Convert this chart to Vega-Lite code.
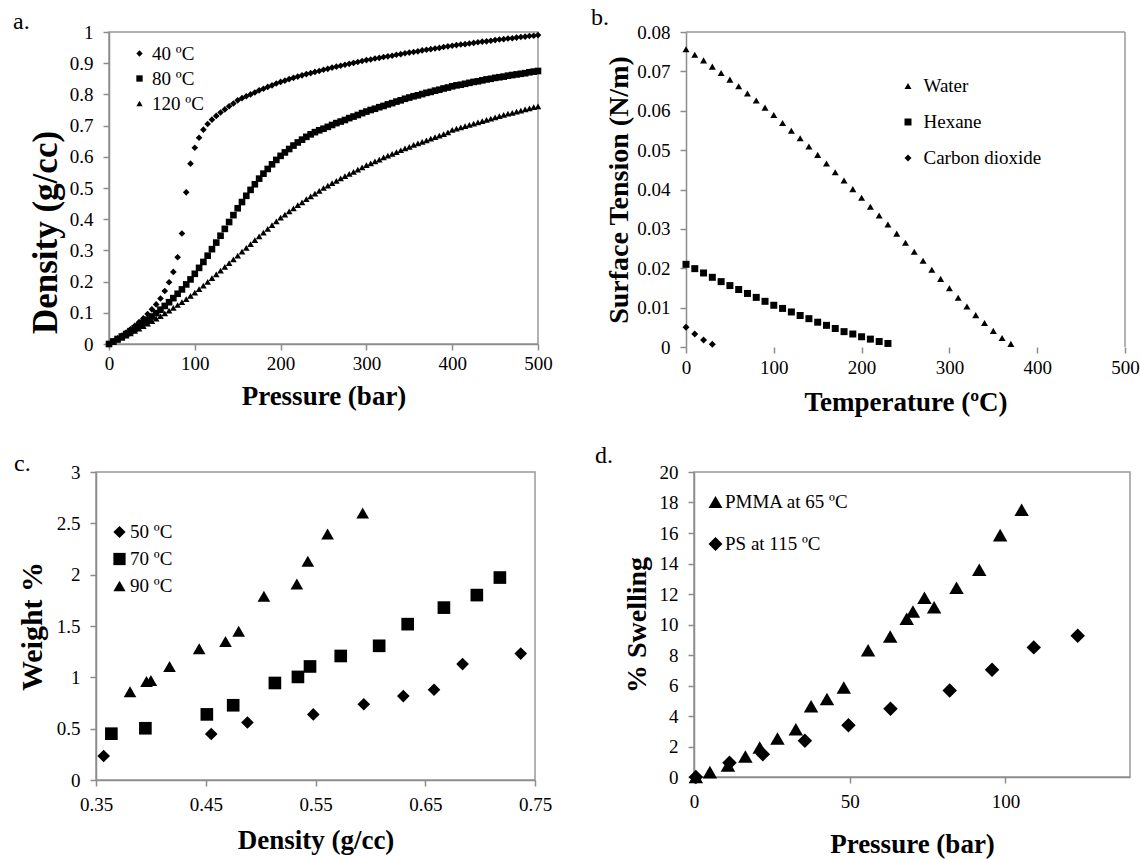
{
"$schema": "https://vega.github.io/schema/vega-lite/v6.json",
"background": "white",
"padding": {"left": 12, "top": 6, "right": 5, "bottom": 5},
"columns": 1,
"align": "none",
"bounds": "full",
"spacing": 28,
"resolve": {"scale": {"shape": "independent"}, "legend": {"shape": "independent"}},
"config": {
  "font": "Liberation Serif",
  "view": {"stroke": "#999999", "strokeWidth": 1.5},
  "axis": {"grid": false, "domainColor": "#8c8c8c", "domainWidth": 1.5, "tickColor": "#8c8c8c", "tickWidth": 1.5, "tickSize": 6, "labelFont": "Liberation Serif", "labelFontSize": 19, "labelColor": "#000000", "labelPadding": 10, "labelFlush": false, "labelOverlap": false, "titleFont": "Liberation Serif", "titleFontSize": 27, "titleFontWeight": "bold", "titleColor": "#000000"},
  "axisY": {"titlePadding": 6},
  "legend": {"labelFont": "Liberation Serif", "labelFontSize": 19, "labelColor": "#000000", "symbolFillColor": "#000000", "symbolStrokeWidth": 0, "symbolOpacity": 1, "padding": 0},
  "title": {"font": "Liberation Serif", "fontSize": 24, "fontWeight": "normal", "anchor": "start", "frame": "group", "offset": 0, "baseline": "alphabetic", "color": "#000000"}
},
"concat": [
{
"bounds": "flush",
"spacing": 0,
"resolve": {"scale": {"shape": "independent"}, "legend": {"shape": "independent"}},
"hconcat": [
{"width": 13, "height": 1, "view": {"stroke": null}, "data": {"values": []}, "mark": "point"},
{
"bounds": "flush",
"spacing": 148,
"resolve": {"scale": {"shape": "independent"}, "legend": {"shape": "independent"}},
"hconcat": [
{
"width": 429, "height": 312,
"title": {"text": "a.", "dx": -96, "dy": 15},
"data": {"values": [
{"P":0,"D":0,"T":"40 ºC"},{"P":5,"D":0.009,"T":"40 ºC"},{"P":10,"D":0.018,"T":"40 ºC"},{"P":15,"D":0.027,"T":"40 ºC"},{"P":20,"D":0.037,"T":"40 ºC"},{"P":25,"D":0.047,"T":"40 ºC"},{"P":30,"D":0.058,"T":"40 ºC"},{"P":35,"D":0.070,"T":"40 ºC"},{"P":40,"D":0.082,"T":"40 ºC"},{"P":45,"D":0.096,"T":"40 ºC"},
{"P":50,"D":0.111,"T":"40 ºC"},{"P":55,"D":0.127,"T":"40 ºC"},{"P":60,"D":0.146,"T":"40 ºC"},{"P":65,"D":0.170,"T":"40 ºC"},{"P":70,"D":0.198,"T":"40 ºC"},{"P":75,"D":0.231,"T":"40 ºC"},{"P":80,"D":0.278,"T":"40 ºC"},{"P":85,"D":0.354,"T":"40 ºC"},{"P":90,"D":0.486,"T":"40 ºC"},{"P":95,"D":0.578,"T":"40 ºC"},
{"P":100,"D":0.629,"T":"40 ºC"},{"P":105,"D":0.661,"T":"40 ºC"},{"P":110,"D":0.687,"T":"40 ºC"},{"P":115,"D":0.705,"T":"40 ºC"},{"P":120,"D":0.719,"T":"40 ºC"},{"P":125,"D":0.731,"T":"40 ºC"},{"P":130,"D":0.742,"T":"40 ºC"},{"P":135,"D":0.752,"T":"40 ºC"},{"P":140,"D":0.762,"T":"40 ºC"},{"P":145,"D":0.771,"T":"40 ºC"},
{"P":150,"D":0.781,"T":"40 ºC"},{"P":155,"D":0.788,"T":"40 ºC"},{"P":160,"D":0.794,"T":"40 ºC"},{"P":165,"D":0.800,"T":"40 ºC"},{"P":170,"D":0.806,"T":"40 ºC"},{"P":175,"D":0.813,"T":"40 ºC"},{"P":180,"D":0.818,"T":"40 ºC"},{"P":185,"D":0.824,"T":"40 ºC"},{"P":190,"D":0.829,"T":"40 ºC"},{"P":195,"D":0.835,"T":"40 ºC"},
{"P":200,"D":0.840,"T":"40 ºC"},{"P":205,"D":0.844,"T":"40 ºC"},{"P":210,"D":0.849,"T":"40 ºC"},{"P":215,"D":0.853,"T":"40 ºC"},{"P":220,"D":0.857,"T":"40 ºC"},{"P":225,"D":0.861,"T":"40 ºC"},{"P":230,"D":0.865,"T":"40 ºC"},{"P":235,"D":0.868,"T":"40 ºC"},{"P":240,"D":0.872,"T":"40 ºC"},{"P":245,"D":0.875,"T":"40 ºC"},
{"P":250,"D":0.879,"T":"40 ºC"},{"P":255,"D":0.882,"T":"40 ºC"},{"P":260,"D":0.886,"T":"40 ºC"},{"P":265,"D":0.889,"T":"40 ºC"},{"P":270,"D":0.892,"T":"40 ºC"},{"P":275,"D":0.895,"T":"40 ºC"},{"P":280,"D":0.898,"T":"40 ºC"},{"P":285,"D":0.901,"T":"40 ºC"},{"P":290,"D":0.904,"T":"40 ºC"},{"P":295,"D":0.907,"T":"40 ºC"},
{"P":300,"D":0.910,"T":"40 ºC"},{"P":305,"D":0.912,"T":"40 ºC"},{"P":310,"D":0.915,"T":"40 ºC"},{"P":315,"D":0.917,"T":"40 ºC"},{"P":320,"D":0.920,"T":"40 ºC"},{"P":325,"D":0.922,"T":"40 ºC"},{"P":330,"D":0.924,"T":"40 ºC"},{"P":335,"D":0.927,"T":"40 ºC"},{"P":340,"D":0.929,"T":"40 ºC"},{"P":345,"D":0.932,"T":"40 ºC"},
{"P":350,"D":0.934,"T":"40 ºC"},{"P":355,"D":0.936,"T":"40 ºC"},{"P":360,"D":0.938,"T":"40 ºC"},{"P":365,"D":0.941,"T":"40 ºC"},{"P":370,"D":0.943,"T":"40 ºC"},{"P":375,"D":0.945,"T":"40 ºC"},{"P":380,"D":0.947,"T":"40 ºC"},{"P":385,"D":0.949,"T":"40 ºC"},{"P":390,"D":0.952,"T":"40 ºC"},{"P":395,"D":0.954,"T":"40 ºC"},
{"P":400,"D":0.956,"T":"40 ºC"},{"P":405,"D":0.958,"T":"40 ºC"},{"P":410,"D":0.960,"T":"40 ºC"},{"P":415,"D":0.961,"T":"40 ºC"},{"P":420,"D":0.963,"T":"40 ºC"},{"P":425,"D":0.965,"T":"40 ºC"},{"P":430,"D":0.967,"T":"40 ºC"},{"P":435,"D":0.969,"T":"40 ºC"},{"P":440,"D":0.970,"T":"40 ºC"},{"P":445,"D":0.972,"T":"40 ºC"},
{"P":450,"D":0.974,"T":"40 ºC"},{"P":455,"D":0.976,"T":"40 ºC"},{"P":460,"D":0.977,"T":"40 ºC"},{"P":465,"D":0.979,"T":"40 ºC"},{"P":470,"D":0.980,"T":"40 ºC"},{"P":475,"D":0.982,"T":"40 ºC"},{"P":480,"D":0.984,"T":"40 ºC"},{"P":485,"D":0.985,"T":"40 ºC"},{"P":490,"D":0.987,"T":"40 ºC"},{"P":495,"D":0.988,"T":"40 ºC"},{"P":500,"D":0.990,"T":"40 ºC"},
{"P":0,"D":0,"T":"80 ºC"},{"P":5,"D":0.008,"T":"80 ºC"},{"P":10,"D":0.016,"T":"80 ºC"},{"P":15,"D":0.024,"T":"80 ºC"},{"P":20,"D":0.032,"T":"80 ºC"},{"P":25,"D":0.041,"T":"80 ºC"},{"P":30,"D":0.050,"T":"80 ºC"},{"P":35,"D":0.059,"T":"80 ºC"},{"P":40,"D":0.068,"T":"80 ºC"},{"P":45,"D":0.078,"T":"80 ºC"},
{"P":50,"D":0.088,"T":"80 ºC"},{"P":55,"D":0.099,"T":"80 ºC"},{"P":60,"D":0.110,"T":"80 ºC"},{"P":65,"D":0.122,"T":"80 ºC"},{"P":70,"D":0.134,"T":"80 ºC"},{"P":75,"D":0.147,"T":"80 ºC"},{"P":80,"D":0.161,"T":"80 ºC"},{"P":85,"D":0.175,"T":"80 ºC"},{"P":90,"D":0.191,"T":"80 ºC"},{"P":95,"D":0.207,"T":"80 ºC"},
{"P":100,"D":0.225,"T":"80 ºC"},{"P":105,"D":0.244,"T":"80 ºC"},{"P":110,"D":0.263,"T":"80 ºC"},{"P":115,"D":0.283,"T":"80 ºC"},{"P":120,"D":0.304,"T":"80 ºC"},{"P":125,"D":0.325,"T":"80 ºC"},{"P":130,"D":0.347,"T":"80 ºC"},{"P":135,"D":0.369,"T":"80 ºC"},{"P":140,"D":0.391,"T":"80 ºC"},{"P":145,"D":0.413,"T":"80 ºC"},
{"P":150,"D":0.435,"T":"80 ºC"},{"P":155,"D":0.455,"T":"80 ºC"},{"P":160,"D":0.475,"T":"80 ºC"},{"P":165,"D":0.494,"T":"80 ºC"},{"P":170,"D":0.512,"T":"80 ºC"},{"P":175,"D":0.530,"T":"80 ºC"},{"P":180,"D":0.546,"T":"80 ºC"},{"P":185,"D":0.561,"T":"80 ºC"},{"P":190,"D":0.576,"T":"80 ºC"},{"P":195,"D":0.590,"T":"80 ºC"},
{"P":200,"D":0.603,"T":"80 ºC"},{"P":205,"D":0.614,"T":"80 ºC"},{"P":210,"D":0.625,"T":"80 ºC"},{"P":215,"D":0.636,"T":"80 ºC"},{"P":220,"D":0.646,"T":"80 ºC"},{"P":225,"D":0.655,"T":"80 ºC"},{"P":230,"D":0.664,"T":"80 ºC"},{"P":235,"D":0.672,"T":"80 ºC"},{"P":240,"D":0.679,"T":"80 ºC"},{"P":245,"D":0.685,"T":"80 ºC"},
{"P":250,"D":0.690,"T":"80 ºC"},{"P":255,"D":0.696,"T":"80 ºC"},{"P":260,"D":0.702,"T":"80 ºC"},{"P":265,"D":0.708,"T":"80 ºC"},{"P":270,"D":0.713,"T":"80 ºC"},{"P":275,"D":0.718,"T":"80 ºC"},{"P":280,"D":0.724,"T":"80 ºC"},{"P":285,"D":0.729,"T":"80 ºC"},{"P":290,"D":0.734,"T":"80 ºC"},{"P":295,"D":0.740,"T":"80 ºC"},
{"P":300,"D":0.745,"T":"80 ºC"},{"P":305,"D":0.750,"T":"80 ºC"},{"P":310,"D":0.754,"T":"80 ºC"},{"P":315,"D":0.759,"T":"80 ºC"},{"P":320,"D":0.763,"T":"80 ºC"},{"P":325,"D":0.768,"T":"80 ºC"},{"P":330,"D":0.772,"T":"80 ºC"},{"P":335,"D":0.777,"T":"80 ºC"},{"P":340,"D":0.781,"T":"80 ºC"},{"P":345,"D":0.786,"T":"80 ºC"},
{"P":350,"D":0.790,"T":"80 ºC"},{"P":355,"D":0.794,"T":"80 ºC"},{"P":360,"D":0.797,"T":"80 ºC"},{"P":365,"D":0.801,"T":"80 ºC"},{"P":370,"D":0.805,"T":"80 ºC"},{"P":375,"D":0.808,"T":"80 ºC"},{"P":380,"D":0.812,"T":"80 ºC"},{"P":385,"D":0.815,"T":"80 ºC"},{"P":390,"D":0.819,"T":"80 ºC"},{"P":395,"D":0.822,"T":"80 ºC"},
{"P":400,"D":0.826,"T":"80 ºC"},{"P":405,"D":0.829,"T":"80 ºC"},{"P":410,"D":0.831,"T":"80 ºC"},{"P":415,"D":0.834,"T":"80 ºC"},{"P":420,"D":0.837,"T":"80 ºC"},{"P":425,"D":0.840,"T":"80 ºC"},{"P":430,"D":0.842,"T":"80 ºC"},{"P":435,"D":0.845,"T":"80 ºC"},{"P":440,"D":0.848,"T":"80 ºC"},{"P":445,"D":0.850,"T":"80 ºC"},
{"P":450,"D":0.853,"T":"80 ºC"},{"P":455,"D":0.855,"T":"80 ºC"},{"P":460,"D":0.857,"T":"80 ºC"},{"P":465,"D":0.860,"T":"80 ºC"},{"P":470,"D":0.862,"T":"80 ºC"},{"P":475,"D":0.864,"T":"80 ºC"},{"P":480,"D":0.866,"T":"80 ºC"},{"P":485,"D":0.868,"T":"80 ºC"},{"P":490,"D":0.871,"T":"80 ºC"},{"P":495,"D":0.873,"T":"80 ºC"},{"P":500,"D":0.875,"T":"80 ºC"},
{"P":0,"D":0,"T":"120 ºC"},{"P":5,"D":0.007,"T":"120 ºC"},{"P":10,"D":0.013,"T":"120 ºC"},{"P":15,"D":0.020,"T":"120 ºC"},{"P":20,"D":0.027,"T":"120 ºC"},{"P":25,"D":0.034,"T":"120 ºC"},{"P":30,"D":0.042,"T":"120 ºC"},{"P":35,"D":0.049,"T":"120 ºC"},{"P":40,"D":0.057,"T":"120 ºC"},{"P":45,"D":0.065,"T":"120 ºC"},
{"P":50,"D":0.073,"T":"120 ºC"},{"P":55,"D":0.081,"T":"120 ºC"},{"P":60,"D":0.089,"T":"120 ºC"},{"P":65,"D":0.098,"T":"120 ºC"},{"P":70,"D":0.107,"T":"120 ºC"},{"P":75,"D":0.116,"T":"120 ºC"},{"P":80,"D":0.125,"T":"120 ºC"},{"P":85,"D":0.134,"T":"120 ºC"},{"P":90,"D":0.144,"T":"120 ºC"},{"P":95,"D":0.154,"T":"120 ºC"},
{"P":100,"D":0.165,"T":"120 ºC"},{"P":105,"D":0.176,"T":"120 ºC"},{"P":110,"D":0.187,"T":"120 ºC"},{"P":115,"D":0.199,"T":"120 ºC"},{"P":120,"D":0.211,"T":"120 ºC"},{"P":125,"D":0.223,"T":"120 ºC"},{"P":130,"D":0.235,"T":"120 ºC"},{"P":135,"D":0.247,"T":"120 ºC"},{"P":140,"D":0.259,"T":"120 ºC"},{"P":145,"D":0.271,"T":"120 ºC"},
{"P":150,"D":0.283,"T":"120 ºC"},{"P":155,"D":0.296,"T":"120 ºC"},{"P":160,"D":0.308,"T":"120 ºC"},{"P":165,"D":0.320,"T":"120 ºC"},{"P":170,"D":0.333,"T":"120 ºC"},{"P":175,"D":0.345,"T":"120 ºC"},{"P":180,"D":0.357,"T":"120 ºC"},{"P":185,"D":0.369,"T":"120 ºC"},{"P":190,"D":0.381,"T":"120 ºC"},{"P":195,"D":0.393,"T":"120 ºC"},
{"P":200,"D":0.405,"T":"120 ºC"},{"P":205,"D":0.415,"T":"120 ºC"},{"P":210,"D":0.425,"T":"120 ºC"},{"P":215,"D":0.435,"T":"120 ºC"},{"P":220,"D":0.445,"T":"120 ºC"},{"P":225,"D":0.454,"T":"120 ºC"},{"P":230,"D":0.464,"T":"120 ºC"},{"P":235,"D":0.473,"T":"120 ºC"},{"P":240,"D":0.482,"T":"120 ºC"},{"P":245,"D":0.491,"T":"120 ºC"},
{"P":250,"D":0.500,"T":"120 ºC"},{"P":255,"D":0.508,"T":"120 ºC"},{"P":260,"D":0.516,"T":"120 ºC"},{"P":265,"D":0.523,"T":"120 ºC"},{"P":270,"D":0.531,"T":"120 ºC"},{"P":275,"D":0.538,"T":"120 ºC"},{"P":280,"D":0.545,"T":"120 ºC"},{"P":285,"D":0.552,"T":"120 ºC"},{"P":290,"D":0.559,"T":"120 ºC"},{"P":295,"D":0.566,"T":"120 ºC"},
{"P":300,"D":0.573,"T":"120 ºC"},{"P":305,"D":0.579,"T":"120 ºC"},{"P":310,"D":0.585,"T":"120 ºC"},{"P":315,"D":0.591,"T":"120 ºC"},{"P":320,"D":0.598,"T":"120 ºC"},{"P":325,"D":0.604,"T":"120 ºC"},{"P":330,"D":0.609,"T":"120 ºC"},{"P":335,"D":0.615,"T":"120 ºC"},{"P":340,"D":0.621,"T":"120 ºC"},{"P":345,"D":0.627,"T":"120 ºC"},
{"P":350,"D":0.632,"T":"120 ºC"},{"P":355,"D":0.638,"T":"120 ºC"},{"P":360,"D":0.643,"T":"120 ºC"},{"P":365,"D":0.648,"T":"120 ºC"},{"P":370,"D":0.653,"T":"120 ºC"},{"P":375,"D":0.658,"T":"120 ºC"},{"P":380,"D":0.663,"T":"120 ºC"},{"P":385,"D":0.668,"T":"120 ºC"},{"P":390,"D":0.673,"T":"120 ºC"},{"P":395,"D":0.678,"T":"120 ºC"},
{"P":400,"D":0.686,"T":"120 ºC"},{"P":405,"D":0.690,"T":"120 ºC"},{"P":410,"D":0.694,"T":"120 ºC"},{"P":415,"D":0.698,"T":"120 ºC"},{"P":420,"D":0.702,"T":"120 ºC"},{"P":425,"D":0.706,"T":"120 ºC"},{"P":430,"D":0.710,"T":"120 ºC"},{"P":435,"D":0.714,"T":"120 ºC"},{"P":440,"D":0.718,"T":"120 ºC"},{"P":445,"D":0.722,"T":"120 ºC"},
{"P":450,"D":0.726,"T":"120 ºC"},{"P":455,"D":0.730,"T":"120 ºC"},{"P":460,"D":0.734,"T":"120 ºC"},{"P":465,"D":0.738,"T":"120 ºC"},{"P":470,"D":0.741,"T":"120 ºC"},{"P":475,"D":0.745,"T":"120 ºC"},{"P":480,"D":0.748,"T":"120 ºC"},{"P":485,"D":0.752,"T":"120 ºC"},{"P":490,"D":0.755,"T":"120 ºC"},{"P":495,"D":0.759,"T":"120 ºC"},{"P":500,"D":0.762,"T":"120 ºC"}
]},
"mark": {"type": "point", "filled": true, "size": 44, "opacity": 1},
"encoding": {
  "x": {"field": "P", "type": "quantitative", "scale": {"domain": [0, 500], "nice": false}, "axis": {"title": "Pressure (bar)", "values": [0, 100, 200, 300, 400, 500], "labelPadding": 4, "titlePadding": 10}},
  "y": {"field": "D", "type": "quantitative", "scale": {"domain": [0, 1], "nice": false}, "axis": {"title": "Density (g/cc)", "values": [0, 0.1, 0.2, 0.3, 0.4, 0.5, 0.6, 0.7, 0.8, 0.9, 1], "format": ".1~f", "titleFontSize": 35, "titlePadding": 6, "titleY": 200}},
  "shape": {"field": "T", "type": "nominal", "scale": {"domain": ["40 ºC", "80 ºC", "120 ºC"], "range": ["diamond", "square", "triangle-up"]}, "legend": {"title": null, "orient": "none", "legendX": 21, "legendY": 12, "symbolSize": 40, "rowPadding": 5, "labelOffset": 3}},
  "color": {"value": "#000000"}
}
},
{
"width": 439, "height": 315,
"title": {"text": "b.", "dx": -95, "dy": 11},
"view": {"stroke": null},
"layer": [
{
"data": {"values": [
{"T":0,"S":0.0756,"L":"Water"},{"T":10,"S":0.0742,"L":"Water"},{"T":20,"S":0.0728,"L":"Water"},{"T":30,"S":0.0712,"L":"Water"},{"T":40,"S":0.0696,"L":"Water"},{"T":50,"S":0.0679,"L":"Water"},{"T":60,"S":0.0662,"L":"Water"},{"T":70,"S":0.0644,"L":"Water"},{"T":80,"S":0.0626,"L":"Water"},{"T":90,"S":0.0608,"L":"Water"},
{"T":100,"S":0.0589,"L":"Water"},{"T":110,"S":0.0569,"L":"Water"},{"T":120,"S":0.0549,"L":"Water"},{"T":130,"S":0.0530,"L":"Water"},{"T":140,"S":0.0509,"L":"Water"},{"T":150,"S":0.0488,"L":"Water"},{"T":160,"S":0.0466,"L":"Water"},{"T":170,"S":0.0444,"L":"Water"},{"T":180,"S":0.0423,"L":"Water"},{"T":190,"S":0.0401,"L":"Water"},
{"T":200,"S":0.0379,"L":"Water"},{"T":210,"S":0.0356,"L":"Water"},{"T":220,"S":0.0334,"L":"Water"},{"T":230,"S":0.0311,"L":"Water"},{"T":240,"S":0.0288,"L":"Water"},{"T":250,"S":0.0265,"L":"Water"},{"T":260,"S":0.0242,"L":"Water"},{"T":270,"S":0.0219,"L":"Water"},{"T":280,"S":0.0196,"L":"Water"},{"T":290,"S":0.0173,"L":"Water"},
{"T":300,"S":0.0149,"L":"Water"},{"T":310,"S":0.0125,"L":"Water"},{"T":320,"S":0.0103,"L":"Water"},{"T":330,"S":0.0081,"L":"Water"},{"T":340,"S":0.0061,"L":"Water"},{"T":350,"S":0.0041,"L":"Water"},{"T":360,"S":0.0023,"L":"Water"},{"T":370,"S":0.0008,"L":"Water"},
{"T":0,"S":0.0210,"L":"Hexane"},{"T":10,"S":0.0199,"L":"Hexane"},{"T":20,"S":0.0188,"L":"Hexane"},{"T":30,"S":0.0177,"L":"Hexane"},{"T":40,"S":0.0166,"L":"Hexane"},{"T":50,"S":0.0156,"L":"Hexane"},{"T":60,"S":0.0146,"L":"Hexane"},{"T":70,"S":0.0136,"L":"Hexane"},{"T":80,"S":0.0126,"L":"Hexane"},{"T":90,"S":0.0116,"L":"Hexane"},
{"T":100,"S":0.0106,"L":"Hexane"},{"T":110,"S":0.0098,"L":"Hexane"},{"T":120,"S":0.0089,"L":"Hexane"},{"T":130,"S":0.0080,"L":"Hexane"},{"T":140,"S":0.0072,"L":"Hexane"},{"T":150,"S":0.0063,"L":"Hexane"},{"T":160,"S":0.0055,"L":"Hexane"},{"T":170,"S":0.0047,"L":"Hexane"},{"T":180,"S":0.0039,"L":"Hexane"},{"T":190,"S":0.0033,"L":"Hexane"},
{"T":200,"S":0.0026,"L":"Hexane"},{"T":210,"S":0.0020,"L":"Hexane"},{"T":220,"S":0.0014,"L":"Hexane"},{"T":230,"S":0.0009,"L":"Hexane"},
{"T":0,"S":0.0050,"L":"Carbon dioxide"},{"T":10,"S":0.0033,"L":"Carbon dioxide"},{"T":20,"S":0.0018,"L":"Carbon dioxide"},{"T":30,"S":0.0007,"L":"Carbon dioxide"}
]},
"mark": {"type": "point", "filled": true, "size": 49, "opacity": 1},
"encoding": {
  "x": {"field": "T", "type": "quantitative", "scale": {"domain": [0, 500], "nice": false}, "axis": {"title": "Temperature (ºC)", "values": [0, 100, 200, 300, 400, 500], "domain": false, "labelPadding": 5, "titlePadding": 12}},
  "y": {"field": "S", "type": "quantitative", "scale": {"domain": [0, 0.08], "nice": false}, "axis": {"title": "Surface Tension (N/m)", "values": [0, 0.01, 0.02, 0.03, 0.04, 0.05, 0.06, 0.07, 0.08], "format": ".2~f", "titleFontSize": 28, "titlePadding": 3}},
  "shape": {"field": "L", "type": "nominal", "scale": {"domain": ["Water", "Hexane", "Carbon dioxide"], "range": ["triangle-up", "square", "diamond"]}, "legend": {"title": null, "orient": "none", "legendX": 212.5, "legendY": 44.5, "symbolSize": 49, "rowPadding": 16, "labelOffset": 6}},
  "color": {"value": "#000000"}
}
},
{"data": {"values": [{}]}, "mark": {"type": "rule", "color": "#999999", "strokeWidth": 1.5}, "encoding": {"y": {"datum": 0.08, "type": "quantitative", "scale": {"domain": [0, 0.08], "nice": false}, "axis": {"title": "Surface Tension (N/m)", "values": [0, 0.01, 0.02, 0.03, 0.04, 0.05, 0.06, 0.07, 0.08], "format": ".2~f", "titleFontSize": 28, "titlePadding": 3}}}},
{"data": {"values": [{}]}, "mark": {"type": "rule", "color": "#999999", "strokeWidth": 1.5}, "encoding": {"x": {"datum": 500, "type": "quantitative", "scale": {"domain": [0, 500], "nice": false}, "axis": {"title": "Temperature (ºC)", "values": [0, 100, 200, 300, 400, 500], "domain": false, "labelPadding": 5, "titlePadding": 12}}}}
]
}
]
}
]
},
{
"bounds": "flush",
"spacing": 159,
"resolve": {"scale": {"shape": "independent"}, "legend": {"shape": "independent"}},
"hconcat": [
{
"width": 439, "height": 308,
"title": {"text": "c.", "dx": -82, "dy": 17},
"data": {"values": [
{"x":0.357,"y":0.234,"s":"50 ºC"},{"x":0.455,"y":0.448,"s":"50 ºC"},{"x":0.488,"y":0.56,"s":"50 ºC"},{"x":0.548,"y":0.639,"s":"50 ºC"},{"x":0.594,"y":0.738,"s":"50 ºC"},{"x":0.630,"y":0.817,"s":"50 ºC"},{"x":0.658,"y":0.879,"s":"50 ºC"},{"x":0.684,"y":1.129,"s":"50 ºC"},{"x":0.737,"y":1.231,"s":"50 ºC"},
{"x":0.364,"y":0.451,"s":"70 ºC"},{"x":0.395,"y":0.504,"s":"70 ºC"},{"x":0.451,"y":0.639,"s":"70 ºC"},{"x":0.475,"y":0.728,"s":"70 ºC"},{"x":0.513,"y":0.945,"s":"70 ºC"},{"x":0.534,"y":1.004,"s":"70 ºC"},{"x":0.545,"y":1.106,"s":"70 ºC"},{"x":0.573,"y":1.208,"s":"70 ºC"},{"x":0.608,"y":1.307,"s":"70 ºC"},{"x":0.634,"y":1.518,"s":"70 ºC"},{"x":0.667,"y":1.679,"s":"70 ºC"},{"x":0.697,"y":1.801,"s":"70 ºC"},{"x":0.718,"y":1.972,"s":"70 ºC"},
{"x":0.381,"y":0.859,"s":"90 ºC"},{"x":0.396,"y":0.96,"s":"90 ºC"},{"x":0.400,"y":0.97,"s":"90 ºC"},{"x":0.417,"y":1.106,"s":"90 ºC"},{"x":0.444,"y":1.278,"s":"90 ºC"},{"x":0.468,"y":1.35,"s":"90 ºC"},{"x":0.480,"y":1.448,"s":"90 ºC"},{"x":0.503,"y":1.79,"s":"90 ºC"},{"x":0.533,"y":1.91,"s":"90 ºC"},{"x":0.543,"y":2.13,"s":"90 ºC"},{"x":0.561,"y":2.397,"s":"90 ºC"},{"x":0.593,"y":2.60,"s":"90 ºC"}
]},
"mark": {"type": "point", "filled": true, "size": 160, "opacity": 1},
"encoding": {
  "x": {"field": "x", "type": "quantitative", "scale": {"domain": [0.35, 0.75], "nice": false, "zero": false}, "axis": {"title": "Density (g/cc)", "values": [0.35, 0.45, 0.55, 0.65, 0.75], "format": ".2f", "labelPadding": 9, "titlePadding": 13}},
  "y": {"field": "y", "type": "quantitative", "scale": {"domain": [0, 3], "nice": false}, "axis": {"title": "Weight %", "values": [0, 0.5, 1, 1.5, 2, 2.5, 3], "format": ".1~f", "titleFontSize": 30, "titlePadding": 9}},
  "shape": {"field": "s", "type": "nominal", "scale": {"domain": ["50 ºC", "70 ºC", "90 ºC"], "range": ["diamond", "square", "triangle-up"]}, "legend": {"title": null, "orient": "none", "legendX": 14, "legendY": 50.5, "symbolSize": 150, "rowPadding": 7, "labelOffset": 1}},
  "color": {"value": "#000000"}
}
},
{
"width": 436, "height": 305,
"title": {"text": "d.", "dx": -99, "dy": 9},
"data": {"values": [
{"p":0.6,"w":0,"s":"PMMA at 65 ºC"},{"p":5.1,"w":0.32,"s":"PMMA at 65 ºC"},{"p":10.9,"w":0.76,"s":"PMMA at 65 ºC"},{"p":16.5,"w":1.34,"s":"PMMA at 65 ºC"},{"p":21.1,"w":1.94,"s":"PMMA at 65 ºC"},{"p":26.8,"w":2.52,"s":"PMMA at 65 ºC"},{"p":32.7,"w":3.13,"s":"PMMA at 65 ºC"},{"p":37.6,"w":4.64,"s":"PMMA at 65 ºC"},{"p":42.7,"w":5.11,"s":"PMMA at 65 ºC"},{"p":48.1,"w":5.87,"s":"PMMA at 65 ºC"},
{"p":55.9,"w":8.31,"s":"PMMA at 65 ºC"},{"p":63.0,"w":9.21,"s":"PMMA at 65 ºC"},{"p":68.3,"w":10.38,"s":"PMMA at 65 ºC"},{"p":70.3,"w":10.85,"s":"PMMA at 65 ºC"},{"p":74.0,"w":11.76,"s":"PMMA at 65 ºC"},{"p":77.1,"w":11.13,"s":"PMMA at 65 ºC"},{"p":84.3,"w":12.41,"s":"PMMA at 65 ºC"},{"p":91.6,"w":13.59,"s":"PMMA at 65 ºC"},{"p":98.3,"w":15.86,"s":"PMMA at 65 ºC"},{"p":105.2,"w":17.52,"s":"PMMA at 65 ºC"},
{"p":0.6,"w":0,"s":"PS at 115 ºC"},{"p":11.4,"w":0.93,"s":"PS at 115 ºC"},{"p":22.1,"w":1.49,"s":"PS at 115 ºC"},{"p":35.6,"w":2.37,"s":"PS at 115 ºC"},{"p":49.6,"w":3.39,"s":"PS at 115 ºC"},{"p":63.1,"w":4.47,"s":"PS at 115 ºC"},{"p":82.1,"w":5.67,"s":"PS at 115 ºC"},{"p":95.7,"w":7.03,"s":"PS at 115 ºC"},{"p":109.1,"w":8.5,"s":"PS at 115 ºC"},{"p":123.2,"w":9.26,"s":"PS at 115 ºC"}
]},
"mark": {"type": "point", "filled": true, "size": 210, "opacity": 1},
"encoding": {
  "x": {"field": "p", "type": "quantitative", "scale": {"domain": [0, 140], "nice": false}, "axis": {"title": "Pressure (bar)", "values": [0, 50, 100], "labelPadding": 9, "titlePadding": 20}},
  "y": {"field": "w", "type": "quantitative", "scale": {"domain": [0, 20], "nice": false}, "axis": {"title": "% Swelling", "values": [0, 2, 4, 6, 8, 10, 12, 14, 16, 18, 20], "titleFontSize": 28, "titlePadding": 8}},
  "shape": {"field": "s", "type": "nominal", "scale": {"domain": ["PMMA at 65 ºC", "PS at 115 ºC"], "range": ["triangle-up", "diamond"]}, "legend": {"title": null, "orient": "none", "legendX": 12, "legendY": 20.5, "symbolSize": 196, "rowPadding": 22, "labelOffset": 0}},
  "color": {"value": "#000000"}
}
}
]
}
]
}
